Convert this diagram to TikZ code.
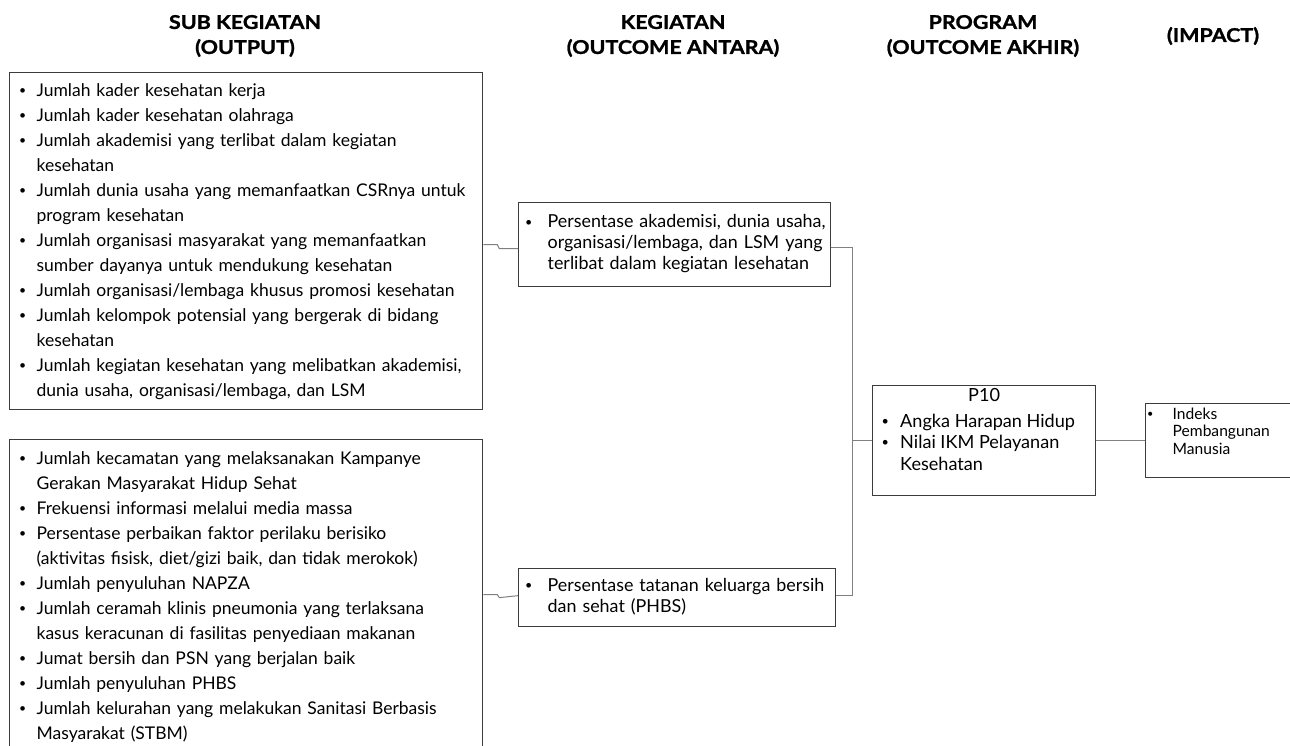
\documentclass[tikz,border=0pt]{standalone}
\usepackage{fontspec}
\setmainfont{Lato}
\newfontfamily\hfont{Lato}[BoldFeatures={FakeBold=1.2,FakeStretch=1.13}]
\usetikzlibrary{calc}
\definecolor{boxline}{HTML}{3C3C3C}
\definecolor{connline}{HTML}{808080}
\newcommand{\bu}{\makebox[0pt][c]{\raisebox{0.1em}{\scalebox{0.7}{\textbullet}}}}
\newcommand{\blist}[2]{\begin{tabular}{@{}l@{\hspace{#1}}l@{}}#2\end{tabular}}
\begin{document}
\begin{tikzpicture}[x=1pt,y=-1pt,
  box/.style={draw=boxline, line width=1.3pt, fill=white, anchor=north west, align=left, inner ysep=0pt},
  txt/.style={anchor=north west, inner sep=0pt, align=left},
  conn/.style={draw=connline, line width=1pt},
  head/.style={font=\hfont\bfseries\fontsize{19}{25}\selectfont, align=center, inner sep=0pt}]
\clip (0,0) rectangle (1290,746);
\fill[white] (0,0) rectangle (1290,746);

% headers
\node[head] (h1) at (245,36) {SUB KEGIATAN\\(OUTPUT)};
\node[head] (h2) at (673,36) {KEGIATAN\\(OUTCOME ANTARA)};
\node[head] (h3) at (983,36) {PROGRAM\\(OUTCOME AKHIR)};
\node[head] (h4) at (1213,36) {(IMPACT)};

% output boxes
\node[box, minimum width=473pt, minimum height=337pt, text width=447pt, inner xsep=13pt,
      font=\fontsize{17.5}{25}\selectfont] (b1) at (9,72) {\blist{14pt}{%
\bu & Jumlah kader kesehatan kerja\\
\bu & Jumlah kader kesehatan olahraga\\
\bu & Jumlah akademisi yang terlibat dalam kegiatan\\
    & kesehatan\\
\bu & Jumlah dunia usaha yang memanfaatkan CSRnya untuk\\
    & program kesehatan\\
\bu & Jumlah organisasi masyarakat yang memanfaatkan\\
    & sumber dayanya untuk mendukung kesehatan\\
\bu & Jumlah organisasi/lembaga khusus promosi kesehatan\\
\bu & Jumlah kelompok potensial yang bergerak di bidang\\
    & kesehatan\\
\bu & Jumlah kegiatan kesehatan yang  melibatkan akademisi,\\
    & dunia usaha, organisasi/lembaga, dan LSM}};

\node[box, minimum width=473pt, minimum height=314pt, text width=447pt, inner xsep=13pt,
      font=\fontsize{17.5}{25}\selectfont] (b2) at (9,439) {\blist{14pt}{%
\bu & Jumlah kecamatan yang melaksanakan Kampanye\\
    & Gerakan Masyarakat Hidup Sehat\\
\bu & Frekuensi informasi melalui media massa\\
\bu & Persentase perbaikan faktor perilaku berisiko\\
    & (aktivitas fisisk, diet/gizi baik, dan tidak merokok)\\
\bu & Jumlah penyuluhan NAPZA\\
\bu & Jumlah ceramah klinis pneumonia yang terlaksana\\
    & kasus keracunan di fasilitas penyediaan makanan\\
\bu & Jumat bersih dan PSN yang berjalan baik\\
\bu & Jumlah penyuluhan PHBS\\
\bu & Jumlah kelurahan yang melakukan Sanitasi Berbasis\\
    & Masyarakat (STBM)}};

% outcome antara boxes
\node[box, minimum width=312pt, minimum height=84pt, text width=292pt, inner xsep=10pt,
      font=\fontsize{17.9}{21}\selectfont] (b3) at (518,202) {\blist{19pt}{%
\bu & Persentase akademisi, dunia usaha,\\
    & organisasi/lembaga, dan LSM yang\\
    & terlibat dalam kegiatan lesehatan}};

\node[box, minimum width=317pt, minimum height=58pt, text width=297pt, inner xsep=10pt,
      font=\fontsize{17.9}{21}\selectfont] (b4) at (518,568) {\blist{19pt}{%
\bu & Persentase tatanan keluarga bersih\\
    & dan sehat (PHBS)}};

% program box
\node[box, minimum width=223pt, minimum height=110pt] (p10) at (872,385) {};
\node[txt, font=\fontsize{18.1}{21.5}\selectfont] (p10t) at (885,386.5) {\blist{15pt}{%
\multicolumn{2}{c}{\hspace{8pt}P10}\\[4pt]
\bu & Angka Harapan Hidup\\
\bu & Nilai IKM Pelayanan\\
    & Kesehatan}};

% impact box
\node[box, minimum width=145pt, minimum height=74pt] (imp) at (1145,403) {};
\node[txt, font=\fontsize{15.6}{17.5}\selectfont] (impt) at (1150,407) {\blist{22.5pt}{%
\bu & Indeks\\
    & Pembangunan\\
    & Manusia}};

% connectors
\draw[conn] ($(b1.east)+(0,3.5)$) -- ++(14,0) -- ++(2,4) -- ($(b3.west)+(0,4)$);
\draw[conn] ($(b2.east)+(0,-2)$) -- ++(14,0) -- ++(2,3) -- ($(b4.west)+(0,-2)$);
\coordinate (jn) at ($(p10.west)+(-20,0)$);
\draw[conn] ($(b3.east)+(0,3)$) -| (jn) -- (p10.west);
\draw[conn] ($(b4.east)+(0,-2)$) -| (jn);
\draw[conn] (p10.east) -- (imp.west);
\end{tikzpicture}
\end{document}
